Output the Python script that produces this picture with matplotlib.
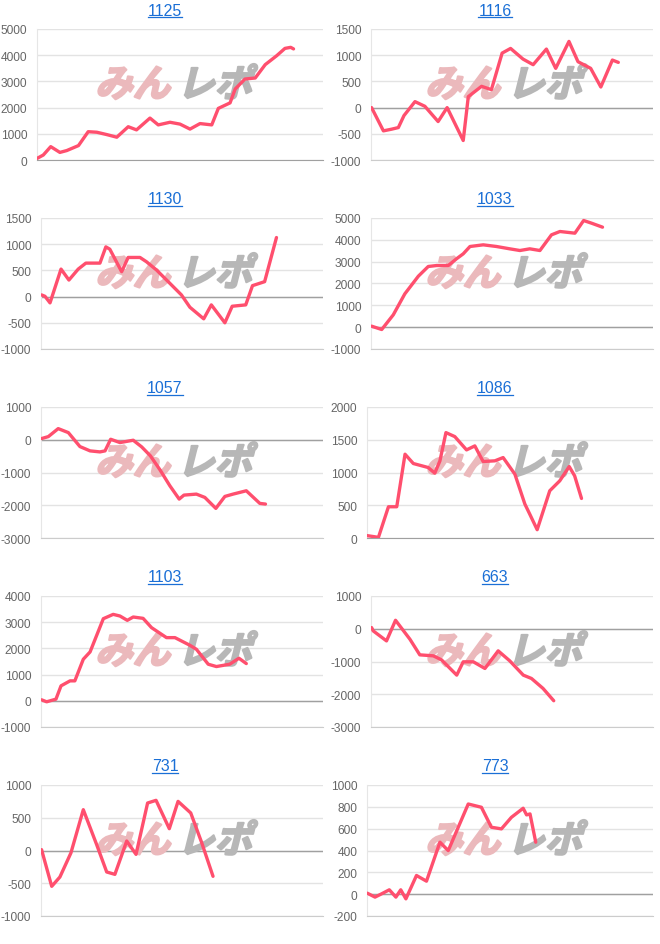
import numpy as np
import matplotlib
matplotlib.use('Agg')
import matplotlib.pyplot as plt
from matplotlib.lines import Line2D
from matplotlib import patheffects
from matplotlib.transforms import Affine2D

plt.rcParams['font.family'] = ['Liberation Sans', 'DejaVu Sans']

# x runs 0..100 across each chart, y is the difference value
x_1125 = [0, 2.2, 4.8, 8.0, 10.4, 14.5, 17.9, 20.9, 24.4, 27.9, 31.9, 34.8, 39.5, 42.4, 46.5,
          50.0, 53.5, 57.0, 61.1, 63.4, 67.5, 69.3, 72.7, 76.3, 79.8, 83.8, 86.7, 88.7, 89.7]
y_1125 = [60, 190, 510, 290, 360, 550, 1080, 1060, 970, 870, 1270, 1150, 1600, 1340, 1440,
          1370, 1180, 1390, 1340, 1970, 2180, 2710, 3090, 3130, 3640, 3980, 4260, 4300, 4240]

x_1116 = [0.2, 4.4, 7.3, 9.7, 11.7, 15.6, 19.1, 23.8, 27.0, 32.7, 34.5, 39.2, 42.7, 46.5, 49.5,
          53.9, 57.5, 62.2, 65.5, 70.2, 73.4, 77.9, 81.5, 85.6, 87.7]
y_1116 = [0, -444, -412, -381, -152, 114, 25, -266, 0, -628, 209, 406, 343, 1040, 1129,
          926, 819, 1117, 749, 1263, 876, 749, 393, 907, 863]

x_1130 = [0.2, 1.4, 3.2, 7.1, 9.9, 13.2, 15.9, 20.9, 23.0, 24.4, 28.6, 30.9, 35.1, 37.4, 41.0,
          45.7, 49.8, 52.8, 57.7, 60.4, 65.2, 67.8, 72.6, 75.0, 79.3, 83.5]
y_1130 = [32, 6, -120, 525, 316, 525, 639, 639, 949, 905, 475, 747, 747, 665, 506,
          253, 32, -203, -424, -158, -500, -184, -158, 209, 285, 1127]

x_1033 = [0.2, 3.8, 7.9, 12.0, 16.8, 20.3, 23.3, 27.4, 30.3, 32.7, 35.1, 39.8, 44.5, 49.2,
          52.8, 56.3, 59.9, 64.0, 67.0, 72.3, 75.4, 78.2, 82.1]
y_1033 = [46, -107, 565, 1527, 2336, 2779, 2824, 2824, 3130, 3359, 3695, 3771, 3695, 3588,
          3511, 3588, 3511, 4229, 4382, 4305, 4885, 4763, 4580]

x_1057 = [0.2, 2.6, 6.1, 9.7, 13.8, 17.4, 20.9, 22.7, 24.7, 28.0, 32.7, 35.7, 38.8, 42.2,
          45.7, 49.0, 50.7, 55.1, 58.1, 62.0, 65.2, 68.1, 72.8, 77.6, 79.6]
y_1057 = [36, 96, 340, 218, -208, -340, -371, -340, 15, -86, -15, -218, -492, -919,
          -1406, -1812, -1690, -1660, -1761, -2096, -1731, -1660, -1558, -1944, -1964]

x_1086 = [0.1, 4.0, 7.5, 10.4, 13.3, 16.2, 21.4, 23.7, 25.5, 27.6, 30.7, 34.8, 37.7, 40.6,
          44.7, 47.6, 51.7, 55.2, 56.9, 59.5, 63.9, 67.4, 70.7, 72.6, 75.0]
y_1086 = [36, 10, 477, 477, 1279, 1137, 1076, 990, 1178, 1609, 1548, 1345, 1406, 1168,
          1178, 1228, 975, 518, 365, 127, 721, 873, 1091, 949, 604]

x_1103 = [0.2, 2.0, 5.3, 7.1, 10.3, 12.0, 15.0, 17.4, 22.1, 25.6, 28.0, 30.6, 32.7, 36.2,
          39.2, 44.5, 47.5, 52.8, 55.1, 59.3, 62.2, 66.9, 70.2, 72.8]
y_1103 = [38, -38, 63, 571, 761, 761, 1586, 1865, 3134, 3299, 3236, 3071, 3198, 3147,
          2792, 2411, 2411, 2119, 1967, 1396, 1307, 1396, 1624, 1421]

x_663 = [0.2, 0.8, 5.5, 8.7, 13.8, 17.3, 22.1, 25.0, 30.4, 32.7, 36.3, 40.4, 45.1, 49.2,
         54.0, 56.9, 61.0, 64.8]
y_663 = [36, -66, -371, 259, -320, -797, -827, -949, -1416, -1010, -1010, -1213, -675, -980,
         -1416, -1518, -1822, -2198]

x_731 = [0.2, 3.8, 6.7, 10.6, 15.0, 19.7, 23.3, 26.2, 30.4, 33.7, 37.8, 40.8, 45.5, 48.6,
         53.1, 56.9, 61.0]
y_731 = [13, -547, -405, -38, 623, 94, -328, -364, 145, -59, 725, 766, 333, 750,
         573, 130, -394]

x_773 = [0.1, 2.8, 5.1, 7.8, 10.1, 11.8, 13.6, 17.3, 20.8, 25.5, 28.4, 35.4, 40.0, 43.5,
         47.0, 50.5, 54.6, 55.8, 57.0, 59.0]
y_773 = [9, -27, 3, 40, -27, 40, -43, 171, 119, 476, 399, 826, 796, 613,
         598, 704, 787, 726, 735, 476]

titles = ['1125', '1116', '1130', '1033', '1057', '1086', '1103', '663', '731', '773']
series_x = [x_1125, x_1116, x_1130, x_1033, x_1057, x_1086, x_1103, x_663, x_731, x_773]
series_y = [y_1125, y_1116, y_1130, y_1033, y_1057, y_1086, y_1103, y_663, y_731, y_773]
y_ranges = [(0, 5000, 1000), (-1000, 1500, 500), (-1000, 1500, 500), (-1000, 5000, 1000),
            (-3000, 1000, 1000), (0, 2000, 500), (-1000, 4000, 1000), (-3000, 1000, 1000),
            (-1000, 1000, 500), (-200, 1000, 200)]


class Slant(patheffects.AbstractPathEffect):
    # slanted, thickened glyphs for the logo watermark
    def __init__(self, yc, angle=14, lw=1.6):
        super().__init__()
        self.yc = yc
        self.angle = angle
        self.lw = lw

    def draw_path(self, renderer, gc, tpath, affine, rgbFace):
        sk = Affine2D().translate(0, -self.yc).skew_deg(self.angle, 0).translate(0, self.yc)
        gc0 = renderer.new_gc()
        gc0.copy_properties(gc)
        gc0.set_linewidth(self.lw)
        gc0.set_foreground(rgbFace)
        gc0.set_joinstyle('round')
        renderer.draw_path(gc0, tpath, affine + sk, rgbFace)
        gc0.restore()


W, H = 660, 945
fig = plt.figure(figsize=(6.6, 9.45), dpi=100)

title_texts = []
for i, name in enumerate(titles):
    row, col = divmod(i, 2)
    x0 = 330 * col
    y0 = 189 * row
    lo, hi, step = y_ranges[i]
    ticks = np.arange(lo, hi + step, step)
    labels = [str(int(t)) for t in ticks]
    left = 41 if max(len(l) for l in labels) > 4 else 37

    ax = fig.add_axes([(x0 + left) / W, 1 - (y0 + 161) / H, (323 - left) / W, 131 / H])
    ax.set_xlim(0, 100)
    ax.set_ylim(lo, hi)
    ax.set_yticks(ticks)
    ax.set_yticklabels(labels)
    ax.set_xticks([])
    ax.tick_params(axis='y', length=0, pad=7, labelsize=8.6, labelcolor='#666666')
    for s in ['top', 'right']:
        ax.spines[s].set_visible(False)
    ax.spines['left'].set_color('#e6e6e6')
    ax.spines['bottom'].set_color('#cccccc')
    ax.grid(axis='y', color='#e3e3e3', lw=1)
    ax.set_axisbelow(True)
    if lo < 0:
        ax.axhline(0, color='#a0a0a0', lw=1, zorder=1.5)
    else:
        ax.spines['bottom'].set_color('#a0a0a0')

    # watermark logo
    yc = H - (y0 + 86)
    ax.text((x0 + 98) / W, yc / H, 'みん', transform=fig.transFigure,
            fontsize=27, fontweight='bold', color='#ebb9bc', va='center', ha='left',
            family=['Noto Sans CJK JP'], zorder=2, clip_on=False,
            path_effects=[Slant(yc)])
    ax.text((x0 + 180) / W, yc / H, 'レポ', transform=fig.transFigure,
            fontsize=27, fontweight='bold', color='#b7b7b7', va='center', ha='left',
            family=['Noto Sans CJK JP'], zorder=2, clip_on=False,
            path_effects=[Slant(yc)])

    ax.plot(series_x[i], series_y[i], color='#ff4f6e', lw=2.4, zorder=3,
            solid_joinstyle='round', solid_capstyle='round')

    t = fig.text((x0 + 165) / W, 1 - (y0 + 11) / H, name, ha='center', va='center',
                 fontsize=11.5, color='#1a6fd6')
    title_texts.append((t, y0))

# underline the titles like links
renderer = fig.canvas.get_renderer()
for t, y0 in title_texts:
    bb = t.get_window_extent(renderer)
    yy = 1 - (y0 + 18) / H
    fig.add_artist(Line2D([bb.x0 / W, bb.x1 / W], [yy, yy], color='#1a6fd6', lw=0.9))

fig.savefig('out.png', dpi=100, facecolor='white')
